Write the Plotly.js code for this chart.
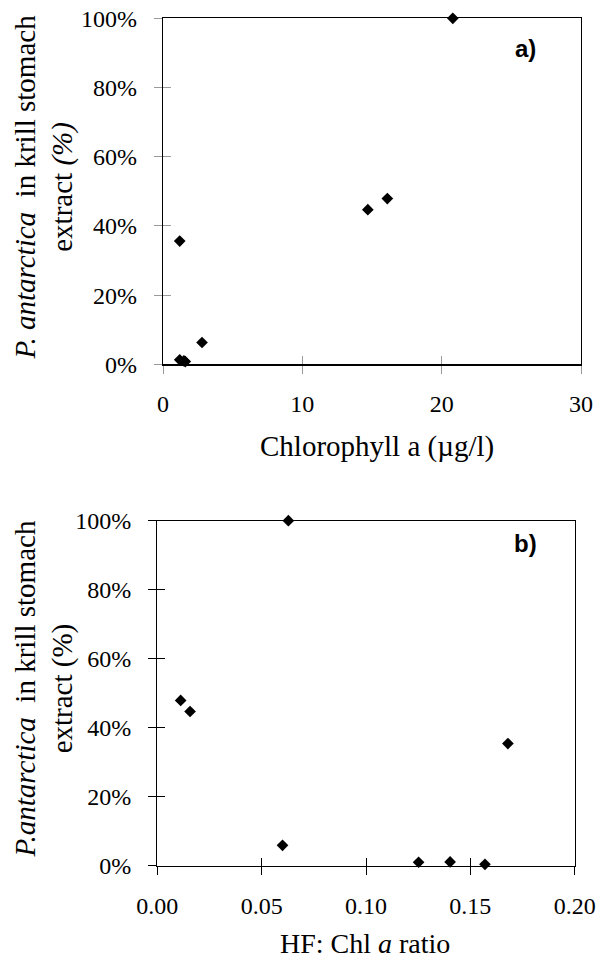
<!DOCTYPE html>
<html>
<head>
<meta charset="utf-8">
<script src="https://cdn.plot.ly/plotly-3.0.1.min.js"></script>
<style>html,body{margin:0;padding:0;background:#fff;}#chart{width:602px;height:960px;}</style>
</head>
<body>
<div id="chart"></div>
<script>
// Panel a: Chlorophyll a (µg/l) vs % P. antarctica
const chlA = [1.2, 1.2, 1.5, 1.6, 2.8, 14.7, 16.1, 20.8];
const pctA = [35.6, 1.3, 1.0, 0.8, 6.3, 44.7, 47.9, 100];
// Panel b: HF:Chl a ratio vs % P. antarctica
const hfRatio = [0.0112, 0.0157, 0.0628, 0.060, 0.1252, 0.1403, 0.157, 0.168];
const pctB = [47.9, 44.7, 100, 5.9, 1.0, 1.1, 0.4, 35.4];

const xTicksA = [0, 10, 20, 30];
const xTicksB = [0, 0.05, 0.10, 0.15, 0.20];
const xTickTextB = ['0.00', '0.05', '0.10', '0.15', '0.20'];
const yTicks = [0, 20, 40, 60, 80, 100];
const yTickText = ['0%', '20%', '40%', '60%', '80%', '100%'];

const W = 602, H = 960;
const serif = '"Liberation Serif", "Times New Roman", Times, serif';
const sans = '"Liberation Sans", Arial, sans-serif';
const marker = {symbol: 'diamond', size: 9, color: '#000'};

const traces = [
  {x: chlA, y: pctA, xaxis: 'x', yaxis: 'y', type: 'scatter', mode: 'markers', marker: marker, cliponaxis: false, hoverinfo: 'x+y'},
  {x: hfRatio, y: pctB, xaxis: 'x2', yaxis: 'y2', type: 'scatter', mode: 'markers', marker: marker, cliponaxis: false, hoverinfo: 'x+y'},
  // empty traces to host overlay axes (inner half of crossing ticks)
  {x: [], y: [], xaxis: 'x3', yaxis: 'y3', type: 'scatter', mode: 'markers', hoverinfo: 'skip'},
  {x: [], y: [], xaxis: 'x4', yaxis: 'y4', type: 'scatter', mode: 'markers', hoverinfo: 'skip'}
];

const domXA = [163 / W, 581 / W];
const domYA = [1 - 364.3 / H, 1 - 18.3 / H];
const domXB = [157.3 / W, 574.7 / W];
const domYB = [1 - 865.7 / H, 1 - 520.7 / H];

const tickFont = {family: serif, size: 24, color: '#000'};
const titleFont = {family: serif, size: 29, color: '#000'};

function baseX(dom, anchor, range, vals, text, tickcolor) {
  return {domain: dom, anchor: anchor, range: range, tickmode: 'array', tickvals: vals, ticktext: text,
    showgrid: false, zeroline: false, showline: true, linecolor: '#000', linewidth: 1.2, mirror: true,
    ticks: 'outside', ticklen: 8, tickwidth: 1, tickcolor: tickcolor, tickfont: tickFont, ticklabelstandoff: 10,
    fixedrange: true};
}
function baseY(dom, anchor, tickcolor) {
  return {domain: dom, anchor: anchor, range: [0, 100], tickmode: 'array', tickvals: yTicks, ticktext: yTickText,
    showgrid: false, zeroline: false, showline: true, linecolor: '#000', linewidth: 1.2, mirror: true,
    ticks: 'outside', ticklen: 8, tickwidth: 1, tickcolor: tickcolor, tickfont: tickFont, ticklabelstandoff: 12,
    fixedrange: true};
}
function innerAxis(dom, anchor, range, vals, tickcolor, overl) {
  return {domain: dom, anchor: anchor, overlaying: overl, range: range, tickmode: 'array', tickvals: vals,
    showgrid: false, zeroline: false, showline: false, showticklabels: false,
    ticks: 'inside', ticklen: 8, tickwidth: 1, tickcolor: tickcolor, fixedrange: true};
}

const grayTick = '#9a9a9a';
const layout = {
  width: W, height: H,
  margin: {l: 0, r: 0, t: 0, b: 0},
  paper_bgcolor: '#fff', plot_bgcolor: '#fff',
  font: {family: serif, color: '#000'},
  showlegend: false,
  xaxis: baseX(domXA, 'y', [0, 30], xTicksA, xTicksA.map(String), grayTick),
  yaxis: baseY(domYA, 'x', grayTick),
  xaxis2: baseX(domXB, 'y2', [0, 0.2], xTicksB, xTickTextB, '#000'),
  yaxis2: baseY(domYB, 'x2', '#000'),
  xaxis3: innerAxis(domXA, 'y3', [0, 30], xTicksA, grayTick, 'x'),
  yaxis3: innerAxis(domYA, 'x3', [0, 100], yTicks, grayTick, 'y'),
  xaxis4: innerAxis(domXB, 'y4', [0, 0.2], xTicksB, '#000', 'x2'),
  yaxis4: innerAxis(domYB, 'x4', [0, 100], yTicks, '#000', 'y2'),
  annotations: [
    {text: 'Chlorophyll a (µg/l)', xref: 'paper', yref: 'paper', x: 377 / W, y: 1 - 447 / H,
     xanchor: 'center', yanchor: 'middle', showarrow: false, font: titleFont},
    {text: 'HF: Chl <i>a</i> ratio', xref: 'paper', yref: 'paper', x: 365 / W, y: 0,
     xanchor: 'center', yanchor: 'bottom', borderpad: 0, showarrow: false, font: {family: serif, size: 28, color: '#000'}},
    {text: '<i>P. antarctica</i>  in krill stomach<br>extract <i>(%)</i>', xref: 'paper', yref: 'paper',
     x: 43.5 / W, y: 1 - 187 / H, xanchor: 'center', yanchor: 'middle', textangle: -90, showarrow: false,
     font: titleFont},
    {text: '<i>P.antarctica</i>  in krill stomach<br>extract (%)', xref: 'paper', yref: 'paper',
     x: 43.5 / W, y: 1 - 689 / H, xanchor: 'center', yanchor: 'middle', textangle: -90, showarrow: false,
     font: titleFont},
    {text: '<b>a)</b>', xref: 'paper', yref: 'paper', x: 525.7 / W, y: 1 - 48 / H, xanchor: 'center', yanchor: 'middle',
     showarrow: false, font: {family: sans, size: 24, color: '#000'}},
    {text: '<b>b)</b>', xref: 'paper', yref: 'paper', x: 525.7 / W, y: 1 - 543 / H, xanchor: 'center', yanchor: 'middle',
     showarrow: false, font: {family: sans, size: 24, color: '#000'}}
  ]
};

Plotly.newPlot('chart', traces, layout, {displayModeBar: false, staticPlot: true});
</script>
</body>
</html>
